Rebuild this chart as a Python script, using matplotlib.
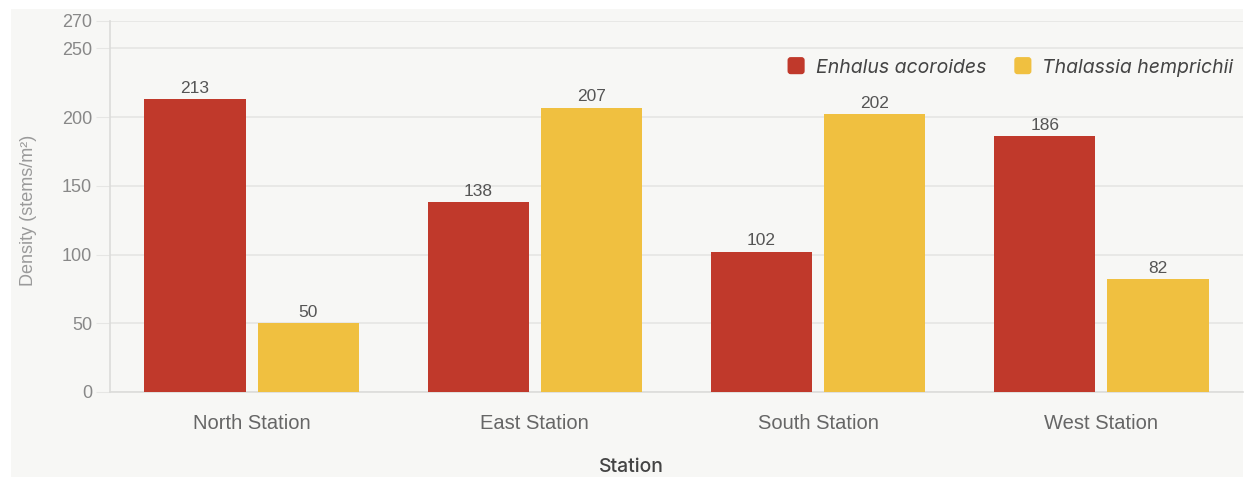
import matplotlib
matplotlib.use("Agg")
import matplotlib.pyplot as plt
from matplotlib.patches import Rectangle, FancyBboxPatch
from matplotlib.legend_handler import HandlerPatch
import numpy as np

stations = ["North Station", "East Station", "South Station", "West Station"]
enhalus = [213, 138, 102, 186]
thalassia = [50, 207, 202, 82]
series_names = ["Enhalus acoroides", "Thalassia hemprichii"]
yticks = [0, 50, 100, 150, 200, 250, 270]

RED = "#c0392b"
YELLOW = "#f0c040"
PANEL = "#f7f7f5"
GRID = "#e6e6e4"
SANS = ["Liberation Sans", "DejaVu Sans"]

W, H = 1254, 478
fig = plt.figure(figsize=(W / 100, H / 100), dpi=100)
fig.patch.set_facecolor("white")

# light panel behind the chart
fig.patches.append(Rectangle((11 / W, 1 - 477 / H), (1243 - 11) / W, (477 - 9) / H,
                             transform=fig.transFigure, facecolor=PANEL,
                             edgecolor="none", zorder=-10))

ax = fig.add_axes([110 / W, 1 - 392 / H, (1243 - 110) / W, (392 - 21) / H])
ax.set_facecolor(PANEL)

x = np.arange(len(stations))
bw = 0.357
off = 0.2
b1 = ax.bar(x - off, enhalus, bw, color=RED, zorder=3, label=series_names[0])
b2 = ax.bar(x + off, thalassia, bw, color=YELLOW, zorder=3, label=series_names[1])

for bars in (b1, b2):
    for r in bars:
        v = r.get_height()
        ax.text(r.get_x() + r.get_width() / 2, v + 2.5, f"{v:g}",
                ha="center", va="bottom", fontsize=12.5, color="#555555",
                family=SANS, zorder=4)

ax.set_xlim(-0.5, 3.5)
ax.set_ylim(0, 270)
ax.set_yticks(yticks)
ax.set_yticklabels([str(t) for t in yticks], family=SANS,
                   fontsize=13, color="#888888")
ax.set_xticks(x)
ax.set_xticklabels(stations, family=SANS, fontsize=14.5, color="#666666")
ax.tick_params(axis="y", length=10, color=GRID, pad=3)
ax.tick_params(axis="x", length=0, pad=16)
ax.grid(axis="y", color=GRID, linewidth=1.2, zorder=0)

for s in ("top", "right"):
    ax.spines[s].set_visible(False)
for s in ("left", "bottom"):
    ax.spines[s].set_color("#dcdcda")
    ax.spines[s].set_linewidth(1.2)

# axis titles
fig.text(631 / W, 1 - 467 / H, "Station", family="Inter", fontsize=14,
         fontweight="medium", color="#444444", ha="center", va="center")
ax.set_ylabel("Density (stems/m²)", family=SANS, fontsize=13, color="#9a9a9a")
ax.yaxis.set_label_coords((37 - 110) / 1133, 0.49)


class RoundedSquare(HandlerPatch):
    def create_artists(self, legend, orig_handle, xdescent, ydescent,
                       width, height, fontsize, trans):
        s = min(width, height) * 1.15
        x0 = -xdescent + (width - s) / 2
        y0 = -ydescent + (height - s) / 2 + 0.5
        p = FancyBboxPatch((x0, y0), s, s,
                           boxstyle=f"round,pad=0,rounding_size={s * 0.18}",
                           facecolor=orig_handle.get_facecolor(),
                           edgecolor="none", transform=trans)
        return [p]


handles = [Rectangle((0, 0), 1, 1, facecolor=RED),
           Rectangle((0, 0), 1, 1, facecolor=YELLOW)]
ax.legend(handles, series_names, loc="upper right",
          bbox_to_anchor=(1.007, 0.945), frameon=False,
          prop={"family": "Inter", "style": "italic", "size": 14},
          handlelength=0.8, handleheight=0.8, handletextpad=0.6,
          columnspacing=1.5, ncol=2, labelcolor="#444444",
          handler_map={Rectangle: RoundedSquare()})

fig.savefig("out.png", dpi=100, facecolor="white")
